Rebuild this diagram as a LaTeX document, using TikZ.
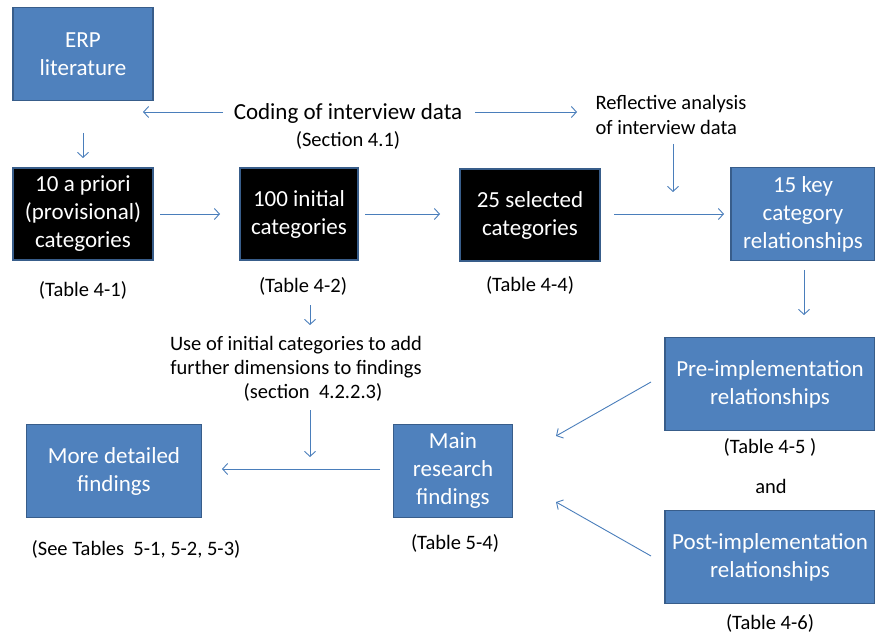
\documentclass[tikz,border=0pt]{standalone}
\usepackage{fontspec}
\setmainfont{Carlito}
\usetikzlibrary{arrows.meta}
\definecolor{boxblue}{HTML}{4F81BD}
\definecolor{boxedge}{HTML}{385D8A}
\definecolor{arrowblue}{HTML}{4A7EBB}
\begin{document}
\begin{tikzpicture}[x=1pt,y=-1pt,
    bluebox/.style={draw=boxedge,line width=1.5pt,fill=boxblue,text=white,align=center,
      font=\fontsize{23}{28}\selectfont,inner sep=0pt},
    blackbox/.style={bluebox,fill=black},
    caption/.style={align=center,font=\fontsize{20.5}{24}\selectfont},
    link/.style={draw=arrowblue,line width=0.9pt,-{Straight Barb[length=5pt,width=11pt]}}]
  \useasboundingbox (0,0) rectangle (875,636);
  \draw
    (83,54) node[bluebox,minimum width=140pt,minimum height=93pt] (erp){ERP\\literature}
    (83,214) node[blackbox,minimum width=140pt,minimum height=92pt] (apriori){10 a priori\\(provisional)\\categories}
    (299,214) node[blackbox,minimum width=118pt,minimum height=92pt] (initial){100 initial\\categories}
    (530,215) node[blackbox,minimum width=140pt,minimum height=92pt] (selected){25 selected\\categories}
    (803,214) node[bluebox,minimum width=144pt,minimum height=93pt] (key){15 key\\category\\relationships}
    (770,384) node[bluebox,minimum width=210pt,minimum height=93pt] (pre){Pre-implementation\\relationships}
    (770,557) node[bluebox,minimum width=210pt,minimum height=93pt] (post){Post-implementation\\relationships}
    (453,471) node[bluebox,minimum width=119pt,minimum height=93pt] (main){Main\\research\\findings}
    (114,471) node[bluebox,minimum width=175pt,minimum height=93pt] (detail){More detailed\\findings};
  \draw
    (348,126) node[caption,font=\fontsize{23}{27}\selectfont] (coding){Coding of interview data\\{\fontsize{20.5}{24}\selectfont(Section 4.1)}}
    (671,115) node[caption,align=left,font=\fontsize{20.5}{25}\selectfont] (reflect){Reflective analysis\\of interview data}
    (83,290) node[caption] (t41){(Table 4-1)}
    (303,286) node[caption] (t42){(Table 4-2)}
    (530,285) node[caption] (t44){(Table 4-4)}
    (296,369) node[caption] (use){Use of initial categories to add\\further dimensions to findings\\\hspace*{34pt}(section~~4.2.2.3)}
    (770,447) node[caption] (t45){(Table 4-5 )}
    (771,486) node[caption] (and){and}
    (770,623) node[caption] (t46){(Table 4-6)}
    (455,543) node[caption] (t54){(Table 5-4)}
    (136,549) node[caption] (t5){(See Tables~~5-1, 5-2, 5-3)};
  \coordinate (c1) at (223,112);
  \coordinate (c2) at (475,112);
  \begin{scope}[link]
    \draw (c1) -- (143,112);
    \draw (c2) -- (577,112);
    \draw (83,133) -- (83,158);
    \draw (673,144) -- (673,192);
    \draw (160,214) -- (220,214);
    \draw (365,214) -- (440,214);
    \draw (614,214) -- (724,214);
    \draw (804,270) -- (804,315);
    \draw (310,305) -- (310,325);
    \draw (310,410) -- (310,457);
    \draw (380,469) -- (222,469);
    \draw (651,382) -- (556,436);
    \draw (651,556) -- (556,502);
  \end{scope}
\end{tikzpicture}
\end{document}
